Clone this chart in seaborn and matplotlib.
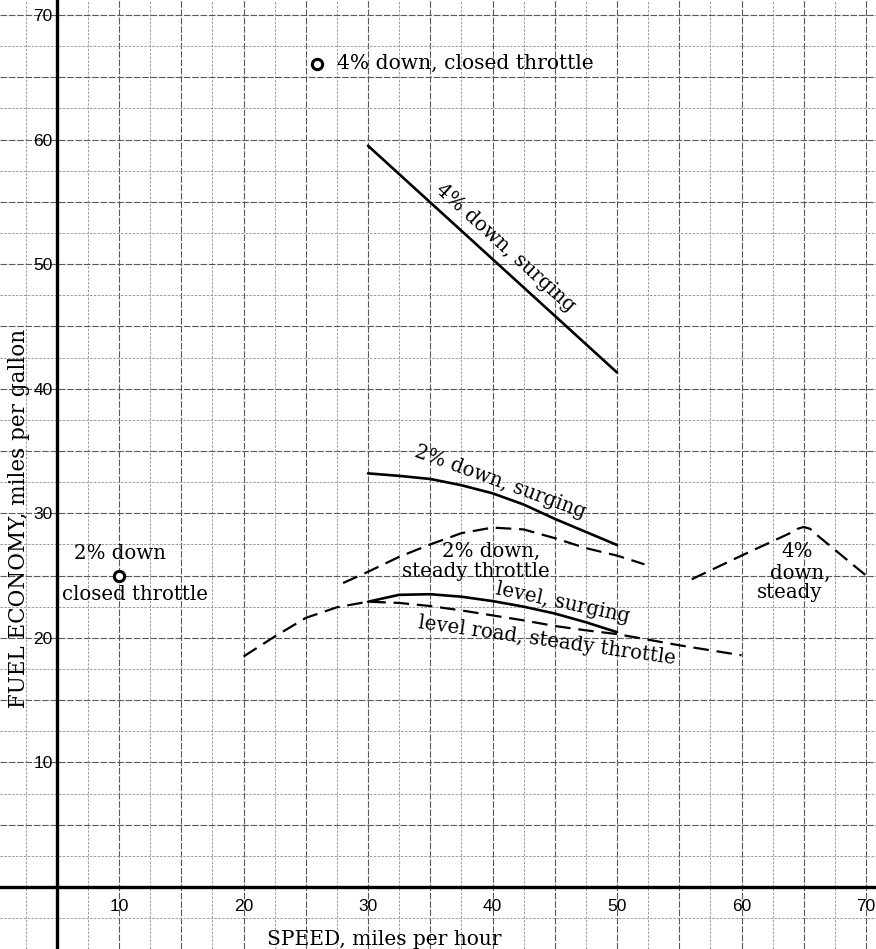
import numpy as np
import pandas as pd
import matplotlib
matplotlib.use("Agg")
import matplotlib.pyplot as plt
import seaborn as sns

# ---------------- data ----------------
speed_4down_surging = [30, 50]
mpg_4down_surging = [59.5, 41.3]

speed_2down_surging = [30, 32.5, 35, 37.5, 40, 42.5, 45, 47.5, 50]
mpg_2down_surging = [33.2, 33.0, 32.75, 32.25, 31.6, 30.7, 29.55, 28.5, 27.45]

speed_2down_steady = [28, 30, 32.5, 35, 37.5, 40, 42.5, 45, 47.5, 50, 52.2]
mpg_2down_steady = [24.4, 25.3, 26.5, 27.5, 28.4, 28.85, 28.7, 28.0, 27.2, 26.6, 25.9]

speed_level_surging = [30, 32.5, 35, 37.5, 40, 42.5, 45, 47.5, 50]
mpg_level_surging = [22.9, 23.45, 23.5, 23.3, 22.95, 22.5, 21.95, 21.25, 20.45]

speed_level_steady = [20, 22.5, 25, 27.5, 30, 32.5, 35, 37.5, 40, 42.5, 45, 47.5, 50, 55, 60]
mpg_level_steady = [18.5, 20.1, 21.6, 22.45, 22.9, 22.8, 22.55, 22.2, 21.8, 21.4, 20.95, 20.6, 20.3, 19.4, 18.6]

speed_4down_steady = [56, 60, 64, 64.5, 65, 65.5, 66, 70]
mpg_4down_steady = [24.7, 26.6, 28.45, 28.75, 28.9, 28.75, 28.3, 25.0]

point_speed = [25.9, 10.0]
point_mpg = [66.1, 25.0]

x_ticks = [10, 20, 30, 40, 50, 60, 70]
y_ticks = [10, 20, 30, 40, 50, 60, 70]

# ---------------- figure ----------------
sns.set_theme(style="white")
plt.rcParams["font.family"] = ["DejaVu Serif"]

fig = plt.figure(figsize=(8.76, 9.49), dpi=100)
ax = fig.add_axes([0, 0, 1, 1])
ax.set_xlim(0.44, 70.8)
ax.set_ylim(-4.98, 71.2)

# graph-paper grid
for v in np.arange(0, 72.5, 2.5):
    major = (v % 5 == 0)
    ax.axvline(v, color="#5a5a5a" if major else "#9a9a9a",
               lw=0.8 if major else 0.7,
               ls=(0, (6, 1.5)) if major else (0, (2.5, 1.5)), zorder=0)
for v in np.arange(-2.5, 72.5, 2.5):
    major = (v % 5 == 0)
    ax.axhline(v, color="#5a5a5a" if major else "#9a9a9a",
               lw=0.8 if major else 0.7,
               ls=(0, (6, 1.5)) if major else (0, (2.5, 1.5)), zorder=0)

solid = dict(color="black", lw=1.9)
dashed = dict(color="black", lw=1.6, linestyle=(0, (7, 3.5)))

sns.lineplot(x=speed_4down_surging, y=mpg_4down_surging, ax=ax, **solid)
sns.lineplot(x=speed_2down_surging, y=mpg_2down_surging, ax=ax, **solid)
sns.lineplot(x=speed_level_surging, y=mpg_level_surging, ax=ax, **solid)
sns.lineplot(x=speed_2down_steady, y=mpg_2down_steady, ax=ax, **dashed)
sns.lineplot(x=speed_level_steady, y=mpg_level_steady, ax=ax, **dashed)
sns.lineplot(x=speed_4down_steady, y=mpg_4down_steady, ax=ax, **dashed)

pts = pd.DataFrame({"speed": point_speed, "mpg": point_mpg})
sns.scatterplot(data=pts, x="speed", y="mpg", ax=ax, marker="o", s=55,
                color="white", edgecolor="black", linewidth=2.2, zorder=5)

# axes
for side in ["top", "right"]:
    ax.spines[side].set_visible(False)
ax.spines["left"].set_position(("data", 5))
ax.spines["bottom"].set_position(("data", 0))
for side in ["left", "bottom"]:
    ax.spines[side].set_linewidth(2.4)
    ax.spines[side].set_color("black")
    ax.spines[side].set_zorder(3)

ax.set_xticks(x_ticks, labels=[str(t) for t in x_ticks])
ax.set_yticks(y_ticks, labels=[str(t) for t in y_ticks])
ax.tick_params(axis="x", length=0, pad=9, labelsize=12.5, colors="black")
ax.tick_params(axis="y", length=0, pad=3, labelsize=12.5, colors="black")
for lab in ax.get_xticklabels() + ax.get_yticklabels():
    lab.set_fontfamily("Liberation Sans")
ax.set_xlabel("")
ax.set_ylabel("")

fs = 14.2
tk = dict(color="black", fontsize=fs, zorder=6)
ax.text(27.5, 66.1, "4% down, closed throttle", ha="left", va="center",
        color="black", fontsize=14.6, zorder=6)
ax.text(10.1, 26.8, "2% down", ha="center", va="center", **tk)
ax.text(11.3, 23.5, "closed throttle", ha="center", va="center", **tk)
ax.text(41.0, 51.3, "4% down, surging", ha="center", va="center", rotation=-42.2, **tk)
ax.text(40.6, 32.5, "2% down, surging", ha="center", va="center", rotation=-20, **tk)
ax.text(39.9, 26.9, "2% down,", ha="center", va="center", **tk)
ax.text(38.7, 25.3, "steady throttle", ha="center", va="center", **tk)
ax.text(45.6, 22.8, "level, surging", ha="center", va="center", rotation=-12, **tk)
ax.text(44.4, 19.75, "level road, steady throttle", ha="center", va="center", rotation=-8, **tk)
ax.text(64.5, 26.9, "4%", ha="center", va="center", **tk)
ax.text(64.7, 25.2, "down,", ha="center", va="center", **tk)
ax.text(63.9, 23.6, "steady", ha="center", va="center", **tk)

# axis titles placed on the paper
ax.text(31.3, -4.25, "SPEED, miles per hour", ha="center", va="center",
        color="black", fontsize=14.5, zorder=6)
ax.text(2.0, 29.6, "FUEL ECONOMY, miles per gallon", ha="center", va="center",
        rotation=90, color="black", fontsize=15.5, zorder=6)

fig.savefig("out.png", dpi=100)
